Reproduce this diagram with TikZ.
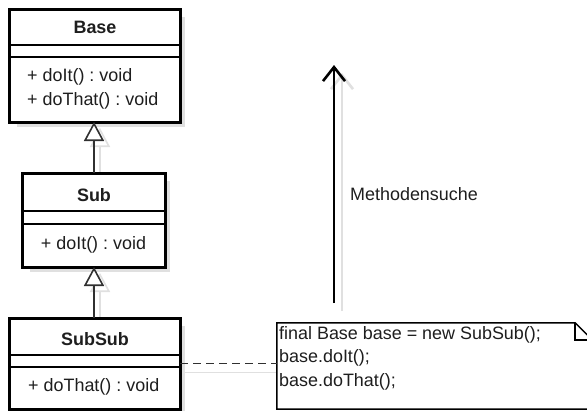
\documentclass[tikz,border=0pt]{standalone}
\usepackage{fontspec}
\setmainfont{Liberation Sans}
\usetikzlibrary{arrows.meta,shadows}

\definecolor{ink}{HTML}{1E1E1E}
\definecolor{wire}{HTML}{303030}
\definecolor{shade}{HTML}{E0E0E0}

\tikzset{
  classbox/.style={draw=black, line width=3bp, fill=white, inner sep=0pt,
    drop shadow={shadow xshift=6bp, shadow yshift=-6bp, fill=shade, opacity=1}},
  sepline/.style={draw=black, line width=1.5bp},
  classname/.style={font=\fontsize{18}{21}\selectfont\bfseries\frenchspacing, text=ink, inner sep=0pt},
  member/.style={font=\fontsize{18}{21}\selectfont\frenchspacing, text=ink, inner sep=0pt, anchor=west},
  inherit/.style={draw=wire, line width=2bp,
    -{Triangle[length=19bp, width=20bp, fill=white, line width=1.6bp]}},
  inheritshade/.style={draw=shade, line width=2bp,
    -{Triangle[length=19bp, width=20bp, open, line width=1.6bp]},
    transform canvas={xshift=6bp, yshift=-6bp}},
  searcharrow/.style={draw=black, line width=2.6bp,
    -{Straight Barb[length=14bp, width=22bp, line width=2.6bp]}},
  searchshade/.style={draw=shade, line width=2.6bp,
    -{Straight Barb[length=14bp, width=22bp, line width=2.6bp]},
    transform canvas={xshift=8bp, yshift=-8bp}},
  notebox/.style={inner sep=0pt, minimum width=315bp, minimum height=86bp},
  noteline/.style={draw=black, line width=1.5bp},
  notetext/.style={font=\fontsize{18}{23.5}\selectfont\frenchspacing, text=ink, align=left,
    inner sep=0pt, anchor=north west},
  link/.style={draw=wire, line width=1.8bp, dash pattern=on 8bp off 5bp},
  linkshade/.style={draw=shade, line width=1.8bp}
}

\begin{document}
\begin{tikzpicture}[x=1bp, y=-1bp]
\useasboundingbox (0,0) rectangle (587,410);
\clip (0,0) rectangle (587,410);
\fill[white] (0,0) rectangle (587,410);

% class boxes
\node[classbox, minimum width=167bp, minimum height=110bp] (base) at (95,65.5) {};
\node[classbox, minimum width=139bp, minimum height=91bp] (sub) at (94,220) {};
\node[classbox, minimum width=167bp, minimum height=88bp] (subsub) at (95,363.5) {};

% note frame (outline drawn below)
\node[notebox] (note) at (434.5,366) {};

% shadows of the connectors
\draw[inheritshade] (sub.north) -- (sub.north |- base.south);
\draw[inheritshade] (subsub.north -| sub.north) -- (sub.south);
\coordinate (searchlow) at (334,303);
\coordinate (searchtop) at (334,65);
\draw[searchshade] (searchlow) -- (searchtop);
\draw[linkshade, transform canvas={xshift=5bp, yshift=-9bp}]
  (subsub.east) -- (subsub.east -| note.west);

% re-fill the boxes over the connector shadows
\fill[white] (base.north west) rectangle (base.south east);
\fill[white] (sub.north west) rectangle (sub.south east);
\fill[white] (subsub.north west) rectangle (subsub.south east);
\draw[line width=3bp] (base.north west) rectangle (base.south east);
\draw[line width=3bp] (sub.north west) rectangle (sub.south east);
\draw[line width=3bp] (subsub.north west) rectangle (subsub.south east);

% Base
\draw[sepline] (base.west |- 0,45) -- (base.east |- 0,45);
\draw[sepline] (base.west |- 0,57) -- (base.east |- 0,57);
\node[classname] (basename) at (95,27) {Base};
\node[member] (base1) at (27,77) {+ doIt() : void};
\node[member] (base2) at (27,101) {+ doThat() : void};

% Sub
\draw[sepline] (sub.west |- 0,211) -- (sub.east |- 0,211);
\draw[sepline] (sub.west |- 0,224) -- (sub.east |- 0,224);
\node[classname] (subname) at (94,195) {Sub};
\node[member, anchor=center] (sub1) at (93.5,245) {+ doIt() : void};

% SubSub
\draw[sepline] (subsub.west |- 0,355) -- (subsub.east |- 0,355);
\draw[sepline] (subsub.west |- 0,367) -- (subsub.east |- 0,367);
\node[classname] (subsubname) at (95,339) {SubSub};
\node[member] (subsub1) at (28,387) {+ doThat() : void};

% generalizations
\draw[inherit] (sub.north) -- (sub.north |- base.south);
\draw[inherit] (subsub.north -| sub.north) -- (sub.south);

% lookup direction
\draw[searcharrow] (searchlow) -- (searchtop);
\node[member] (searchlabel) at (350,194) {Methodensuche};

% note with folded corner
\draw[noteline, fill=white]
  (note.north west) -- ([xshift=-17bp]note.north east)
  -- ([yshift=-17bp]note.north east) -- (note.south east)
  -- (note.south west) -- cycle;
\draw[noteline] ([xshift=-17bp]note.north east) -- ++(0,17) -- ++(17,0);
\node[notetext] (code) at (279,326)
  {final Base base = new SubSub();\\base.doIt();\\base.doThat();};

% note attachment
\draw[link] (subsub.east) -- (subsub.east -| note.west);
\end{tikzpicture}
\end{document}
